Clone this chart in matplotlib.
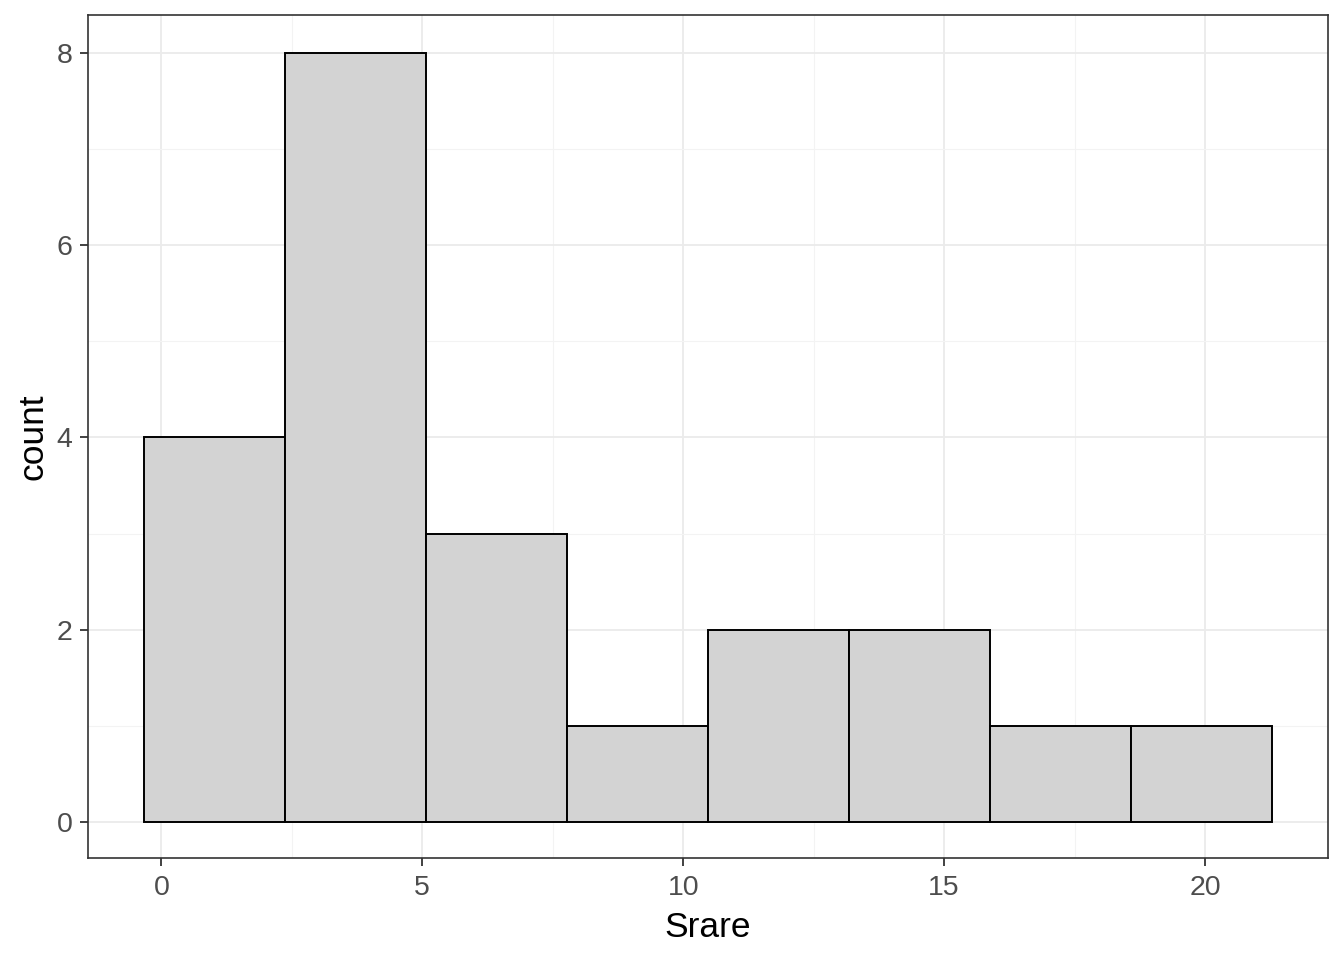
import matplotlib
matplotlib.use("Agg")
import matplotlib.pyplot as plt
import numpy as np

plt.rcParams['font.family'] = ['Liberation Sans', 'DejaVu Sans']

# histogram bins
bin_edges = [-0.325, 2.375, 5.075, 7.775, 10.475, 13.175, 15.875, 18.575, 21.275]
counts = [4, 8, 3, 1, 2, 2, 1, 1]
x_ticks = [0, 5, 10, 15, 20]
y_ticks = [0, 2, 4, 6, 8]

fig = plt.figure(figsize=(13.44, 9.6), dpi=100)
ax = fig.add_axes([88 / 1344, 1 - 858 / 960, (1328 - 88) / 1344, (858 - 15) / 960])

edges = np.array(bin_edges)
ax.bar(edges[:-1], counts, width=np.diff(edges), align='edge',
       color='#D3D3D3', edgecolor='black', linewidth=1.4, zorder=3)

span_x = edges[-1] - edges[0]
ax.set_xlim(edges[0] - 0.05 * span_x, edges[-1] + 0.05 * span_x)
ax.set_ylim(-0.375, 8.395)

ax.set_xticks(x_ticks)
ax.set_yticks(y_ticks)
ax.set_xticks(np.arange(2.5, 22.5, 5), minor=True)
ax.set_yticks(np.arange(1, 9, 2), minor=True)
ax.grid(which='major', color='#EBEBEB', linewidth=1.3, zorder=0)
ax.grid(which='minor', color='#F3F3F3', linewidth=0.8, zorder=0)
ax.set_axisbelow(True)

ax.tick_params(which='major', length=6, width=1.3, color='#333333',
               labelsize=20.5, labelcolor='#4D4D4D', pad=5)
ax.tick_params(axis='x', which='major', pad=6.5)
ax.tick_params(which='minor', length=0)
for s in ax.spines.values():
    s.set_color('#333333')
    s.set_linewidth(1.2)

ax.set_xlabel('Srare', fontsize=25.5, labelpad=7)
ax.set_ylabel('count', fontsize=25.5, labelpad=5.5)

fig.savefig('out.png', dpi=100)
